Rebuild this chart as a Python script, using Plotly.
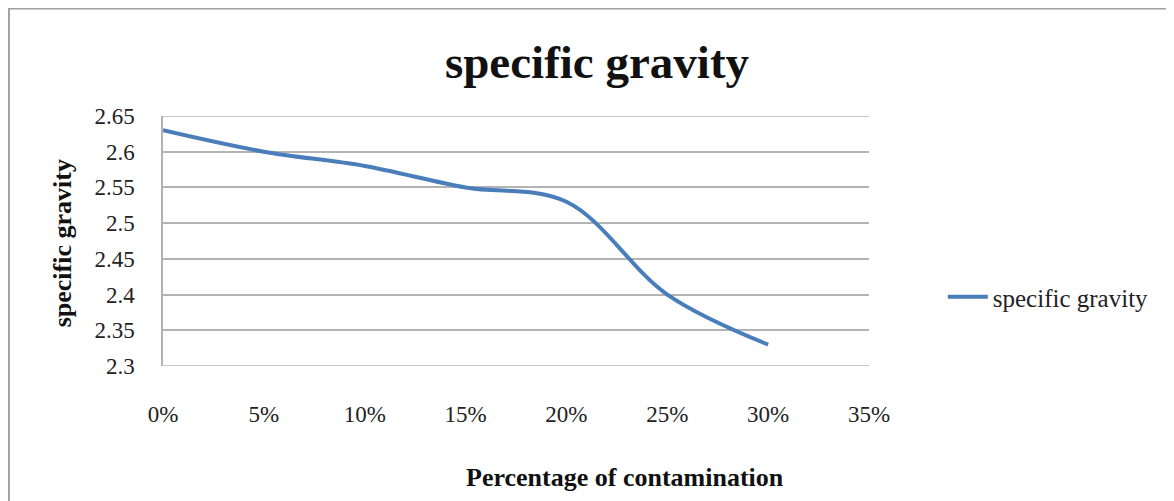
import plotly.graph_objects as go

# ---- data ----
contamination = [0.00, 0.05, 0.10, 0.15, 0.20, 0.25, 0.30]
specific_gravity = [2.63, 2.60, 2.58, 2.55, 2.53, 2.40, 2.33]
y_tick_vals = [2.30, 2.35, 2.40, 2.45, 2.50, 2.55, 2.60, 2.65]
y_tick_text = ["2.3", "2.35", "2.4", "2.45", "2.5", "2.55", "2.6", "2.65"]
x_tick_vals = [0.00, 0.05, 0.10, 0.15, 0.20, 0.25, 0.30, 0.35]
x_tick_text = ["0%", "5%", "10%", "15%", "20%", "25%", "30%", "35%"]

SERIF = "Liberation Serif, Times New Roman, serif"
OFF = 8  # page body margin
W, H = 1174 - 2 * OFF, 501 - OFF
# plot area in page pixels, converted to figure pixels
L, R, T, B = 163 - OFF, 871 - OFF, 116 - OFF, 366 - OFF
pw, ph = R - L, B - T

def px_x(px):
    return (px - OFF - L) / pw

def px_y(py):
    return (B - (py - OFF)) / ph

fig = go.Figure()
fig.add_trace(go.Scatter(
    x=contamination, y=specific_gravity, mode="lines",
    name="specific gravity",
    line=dict(color="#4A7EBB", width=4, shape="spline", smoothing=1),
))

fig.update_layout(
    width=W, height=H,
    margin=dict(l=L, r=W - R, t=T, b=H - B, pad=0),
    paper_bgcolor="white", plot_bgcolor="white",
    font=dict(family=SERIF, color="#222"),
    showlegend=True,
    legend=dict(x=px_x(945), y=px_y(297), xanchor="left", yanchor="middle",
                font=dict(family=SERIF, size=25, color="#222"),
                bgcolor="rgba(0,0,0,0)", itemwidth=40),
    title=dict(text="<b>specific gravity</b>", xref="container", yref="container",
               x=(597 - OFF) / W, y=1 - (62 - OFF) / H, xanchor="center", yanchor="middle",
               font=dict(family=SERIF, size=47, color="#111")),
)

fig.update_xaxes(
    range=[0, 0.35], tickvals=x_tick_vals, ticktext=x_tick_text,
    showgrid=False, zeroline=False, showline=False,
    ticks="", ticklabelstandoff=32,
    tickfont=dict(family=SERIF, size=23, color="#222"),
)
fig.update_yaxes(
    range=[2.3, 2.65], tickvals=y_tick_vals, ticktext=y_tick_text,
    showgrid=True, gridcolor="#B3B3B3", gridwidth=1.5,
    zeroline=False, showline=True, linecolor="#B3B3B3", linewidth=1.5,
    ticks="", ticklabelstandoff=22,
    tickfont=dict(family=SERIF, size=23, color="#222"),
)

# gridlines at the range edges (not drawn by plotly)
for yv in (y_tick_vals[0], y_tick_vals[-1]):
    fig.add_shape(type="line", xref="paper", yref="y", x0=0, x1=1, y0=yv, y1=yv,
                  line=dict(color="#B3B3B3", width=1.5), layer="below")

# axis titles
fig.add_annotation(text="<b>Percentage of contamination</b>", xref="paper", yref="paper",
                   x=px_x(626), y=px_y(477), xanchor="center", yanchor="middle",
                   showarrow=False, font=dict(family=SERIF, size=26, color="#111"))
fig.add_annotation(text="<b>specific gravity</b>", xref="paper", yref="paper",
                   x=px_x(62), y=px_y(243), xanchor="center", yanchor="middle",
                   textangle=-90, showarrow=False,
                   font=dict(family=SERIF, size=26, color="#111"))

# outer chart frame (top and left edges visible)
fig.add_shape(type="line", xref="paper", yref="paper",
              x0=px_x(8), y0=px_y(8), x1=px_x(1200), y1=px_y(8),
              line=dict(color="#A0A0A0", width=3), layer="below")
fig.add_shape(type="line", xref="paper", yref="paper",
              x0=px_x(8), y0=px_y(8), x1=px_x(8), y1=px_y(540),
              line=dict(color="#A0A0A0", width=3), layer="below")

fig.write_html("out.html")
